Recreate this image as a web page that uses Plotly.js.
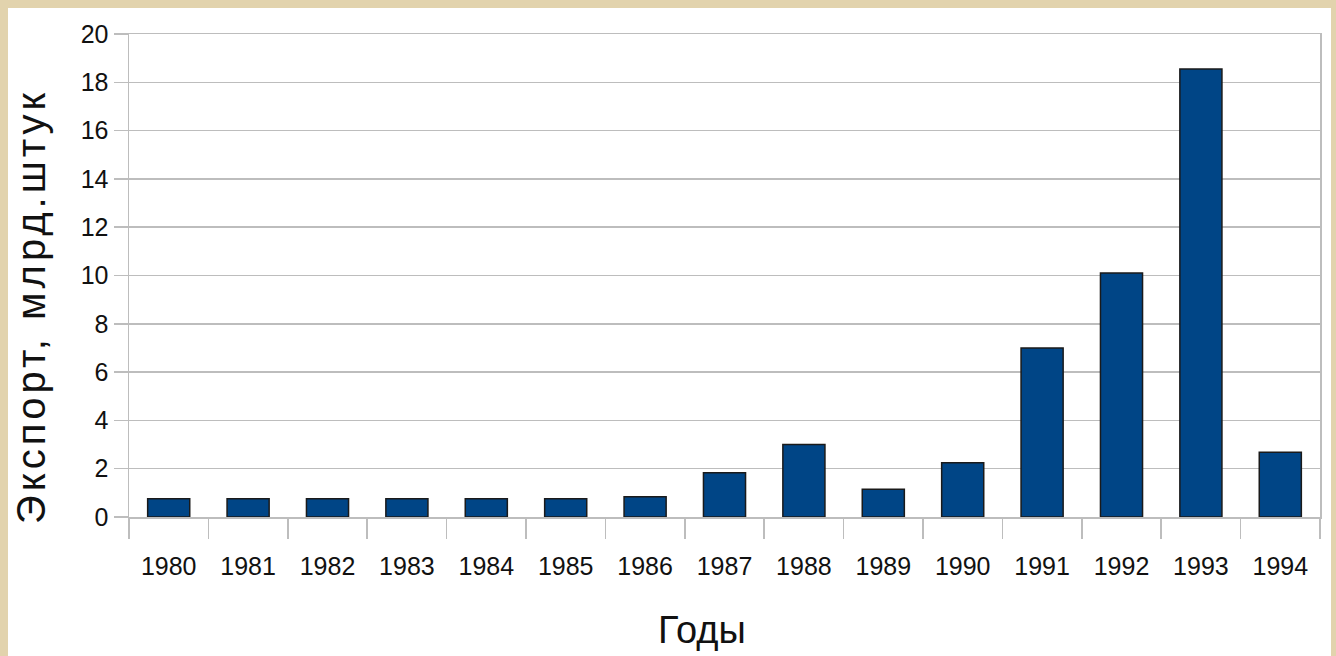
<!DOCTYPE html>
<html>
<head>
<meta charset="utf-8">
<script src="https://cdn.plot.ly/plotly-3.0.1.min.js"></script>
<style>
  html, body { margin: 0; padding: 0; background: #e2d3ad; }
  #chart { width: 1336px; height: 656px; }
</style>
</head>
<body>
<div id="chart"></div>
<script>
const years = ["1980","1981","1982","1983","1984","1985","1986","1987","1988","1989","1990","1991","1992","1993","1994"];
const exportValues = [0.76, 0.76, 0.76, 0.76, 0.76, 0.76, 0.84, 1.83, 3.0, 1.15, 2.25, 7.0, 10.1, 18.55, 2.68];
const yTitle = "Экспорт, млрд.штук";
const xTitle = "Годы";

const plotL = 129, plotR = 1320, plotT = 34, plotB = 517;
const W = 1336, H = 656;
const pw = plotR - plotL, ph = plotB - plotT;
const px = v => (v - plotL) / pw;
const py = v => (plotB - v) / ph;

const gridColor = "#bdbdbd";
const tickFont = { family: "'Liberation Sans', Arial, sans-serif", size: 25, color: "#111" };

const trace = {
  type: "bar",
  x: years,
  y: exportValues,
  marker: { color: "#004586", line: { color: "#1a1a1a", width: 1.5 } },
  hoverinfo: "none"
};

const layout = {
  width: W, height: H,
  margin: { l: plotL, r: W - plotR, t: plotT, b: H - plotB, pad: 0 },
  paper_bgcolor: "#e2d3ad",
  plot_bgcolor: "rgba(0,0,0,0)",
  showlegend: false,
  bargap: 0.47,
  xaxis: {
    type: "category",
    tickson: "boundaries",
    ticks: "outside",
    ticklen: 20,
    tickwidth: 1.5,
    tickcolor: gridColor,
    showgrid: false,
    showline: true,
    linecolor: gridColor,
    linewidth: 1.5,
    mirror: true,
    tickfont: tickFont,
    ticklabelstandoff: 26,
    fixedrange: true
  },
  yaxis: {
    range: [0, 20],
    dtick: 2,
    tick0: 0,
    ticks: "outside",
    ticklen: 14,
    tickwidth: 1.5,
    tickcolor: gridColor,
    showgrid: true,
    gridcolor: gridColor,
    gridwidth: 1.5,
    zeroline: false,
    showline: true,
    linecolor: gridColor,
    linewidth: 1.5,
    mirror: true,
    tickfont: tickFont,
    ticklabelstandoff: 0,
    fixedrange: true
  },
  shapes: [{
    type: "rect", xref: "paper", yref: "paper", layer: "below",
    x0: px(8), x1: px(1331), y0: py(656), y1: py(8),
    fillcolor: "#ffffff", line: { width: 0 }
  }],
  annotations: [
    {
      text: yTitle, xref: "paper", yref: "paper",
      x: px(31), y: py(306), xanchor: "center", yanchor: "middle",
      textangle: -90, showarrow: false,
      font: { family: "'Liberation Sans', Arial, sans-serif", size: 40, color: "#111" }
    },
    {
      text: xTitle, xref: "paper", yref: "paper",
      x: px(702), y: py(630), xanchor: "center", yanchor: "middle",
      showarrow: false,
      font: { family: "'Liberation Sans', Arial, sans-serif", size: 38, color: "#111" }
    }
  ]
};

Plotly.newPlot("chart", [trace], layout, { displayModeBar: false, staticPlot: true }).then(gd => {
  const t = gd.querySelector('.annotation[data-index="0"] text');
  if (t) t.setAttribute('letter-spacing', '4px');
});
</script>
</body>
</html>
